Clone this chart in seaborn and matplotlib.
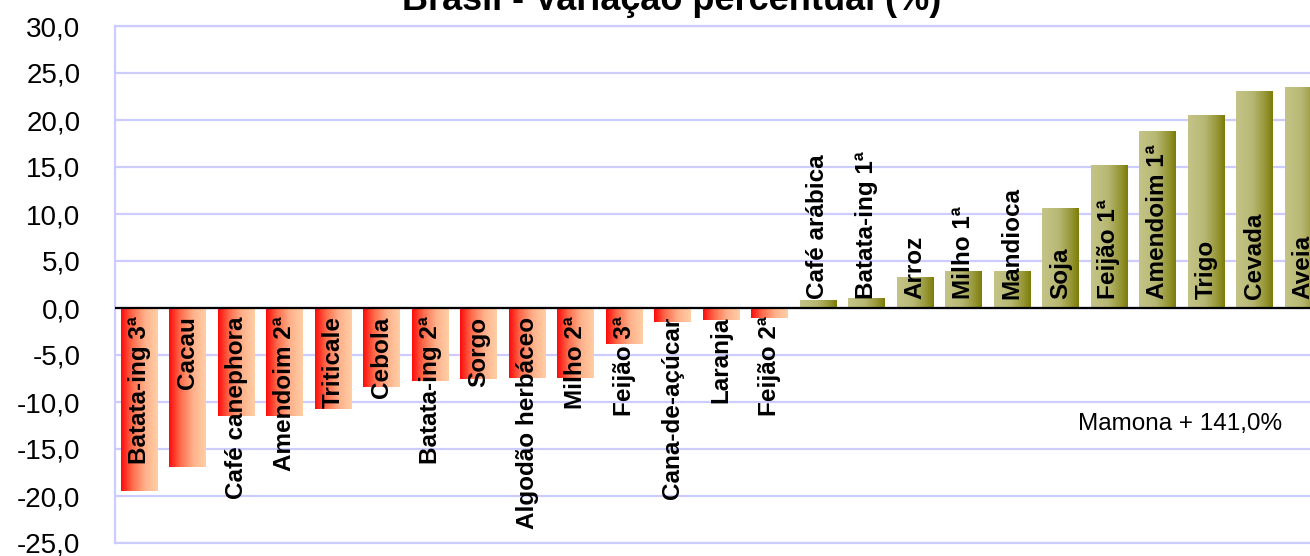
import numpy as np
import pandas as pd
import matplotlib
matplotlib.use("Agg")
import matplotlib.pyplot as plt
import seaborn as sns
from matplotlib.colors import LinearSegmentedColormap

# ---- data ----
categories = ["Batata-ing 3ª", "Cacau", "Café canephora", "Amendoim 2ª", "Triticale",
              "Cebola", "Batata-ing 2ª", "Sorgo", "Algodão herbáceo", "Milho 2ª",
              "Feijão 3ª", "Cana-de-açúcar", "Laranja", "Feijão 2ª", "Café arábica",
              "Batata-ing 1ª", "Arroz", "Milho 1ª", "Mandioca", "Soja", "Feijão 1ª",
              "Amendoim 1ª", "Trigo", "Cevada", "Aveia"]
values = [-19.5, -16.9, -11.5, -11.5, -10.7, -8.4, -7.8, -7.6, -7.4, -7.4,
          -3.8, -1.5, -1.3, -1.1, 0.9, 1.1, 3.3, 3.9, 3.9, 10.6, 15.2,
          18.8, 20.5, 23.1, 23.5]
yticks = [30, 25, 20, 15, 10, 5, 0, -5, -10, -15, -20, -25]
ytick_labels = ["30,0", "25,0", "20,0", "15,0", "10,0", "5,0", "0,0",
                "-5,0", "-10,0", "-15,0", "-20,0", "-25,0"]
title = "Brasil - Variação percentual (%)"
note = "Mamona + 141,0%"

df = pd.DataFrame({"cultura": categories, "variacao": values})

sns.set_style("white")
plt.rcParams["font.family"] = ["Liberation Sans", "DejaVu Sans"]

W, H = 1310, 556
fig = plt.figure(figsize=(W / 100, H / 100), dpi=100)
ax = fig.add_axes([115 / W, (H - 543) / H, 1212 / W, (543 - 26) / H])

sns.barplot(data=df, x="cultura", y="variacao", order=categories,
            color="#cccccc", width=0.753, ax=ax, errorbar=None, zorder=2)

neg_cmap = LinearSegmentedColormap.from_list(
    "neg", [(0, "#ff0a0a"), (0.3, "#ff6a4a"), (0.65, "#ffb08a"), (1, "#ffcfa6")])
pos_cmap = LinearSegmentedColormap.from_list(
    "pos", [(0, "#c4c488"), (0.45, "#b8b874"), (0.8, "#959535"), (1, "#7c7c08")])
grad = np.linspace(0, 1, 256).reshape(1, -1)

for patch, v in zip(ax.patches, values):
    x0 = patch.get_x()
    w = patch.get_width()
    y0 = patch.get_y()
    h = patch.get_height()
    cmap = neg_cmap if v < 0 else pos_cmap
    im = ax.imshow(grad, cmap=cmap, aspect="auto",
                   extent=[x0, x0 + w, min(y0, y0 + h), max(y0, y0 + h)],
                   zorder=2, interpolation="bilinear")
    im.set_clip_path(patch)
    patch.set_facecolor("none")
    patch.set_edgecolor("none")

# bar labels
for i, (c, v) in enumerate(zip(categories, values)):
    if v < 0:
        ax.text(i, -0.9, c, rotation=90, ha="center", va="top",
                fontsize=17.5, fontweight="bold", color="black", zorder=4)
    else:
        ax.text(i, 1.0, c, rotation=90, ha="center", va="bottom",
                fontsize=17.5, fontweight="bold", color="black", zorder=4)

ax.set_xlim(-0.5, 24.5)
ax.set_ylim(-25, 30)
ax.set_yticks(yticks)
ax.set_yticklabels(ytick_labels)
ax.tick_params(axis="y", length=0, pad=25, labelsize=20, labelcolor="black")
ax.set_xticks([])
ax.set_xlabel("")
ax.set_ylabel("")

grid_c = "#ccccff"
ax.yaxis.grid(True, color=grid_c, lw=1.6, zorder=0)
ax.set_axisbelow(True)
ax.axhline(0, color="black", lw=1.6, zorder=3)
for s in ["left", "top", "bottom"]:
    ax.spines[s].set_visible(True)
    ax.spines[s].set_color(grid_c)
    ax.spines[s].set_linewidth(1.6)
ax.spines["right"].set_visible(False)

ax.text(23.58, -12.3, note, ha="right", va="center", fontsize=17.5, color="black")

fig.text(672 / W, 1 - 10 / H, title, ha="center", va="baseline",
         fontsize=26, fontweight="bold", color="black")

fig.savefig("out.png", dpi=100)
